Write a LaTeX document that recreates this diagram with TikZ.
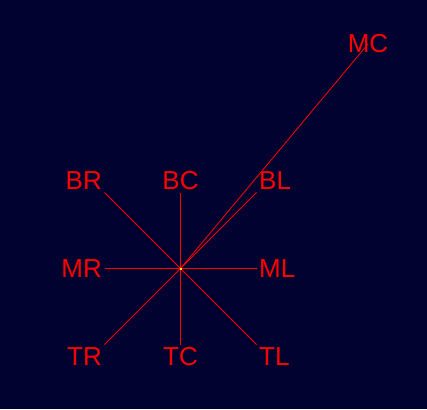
\documentclass[tikz,border=0pt]{standalone}
\usepackage{fontspec}
\setmainfont{Liberation Sans}
\definecolor{bgnavy}{RGB}{2,2,48}
\definecolor{lred}{RGB}{255,0,0}
\begin{document}
\begin{tikzpicture}[x=1pt,y=-1pt,
  lbl/.style={text=lred,font=\fontsize{26}{26}\selectfont,inner sep=2.5pt},
  ray/.style={draw=lred,line width=0.8pt}]
\fill[bgnavy] (0,0) rectangle (427,409);
\useasboundingbox (0,0) rectangle (427,409);
\coordinate (c) at (180.5,268.5);
\coordinate (pBR) at (104.5,192.5);
\coordinate (pBC) at (180.5,192.5);
\coordinate (pBL) at (256.5,192.5);
\coordinate (pMR) at (104.5,268.5);
\coordinate (pML) at (256.5,268.5);
\coordinate (pTR) at (104.5,344.5);
\coordinate (pTC) at (180.5,344.5);
\coordinate (pTL) at (256.5,344.5);
\coordinate (pMC) at (368,44);
\foreach \p in {BR,BC,BL,MR,ML,TR,TC,TL,MC} \draw[ray] (c) -- (p\p);
\node[lbl,anchor=south east] (BR) at (pBR) {BR};
\node[lbl,anchor=south] (BC) at (pBC) {BC};
\node[lbl,anchor=south west] (BL) at (pBL) {BL};
\node[lbl,anchor=east] (MR) at (pMR) {MR};
\node[lbl,anchor=west] (ML) at (pML) {ML};
\node[lbl,anchor=north east] (TR) at (pTR) {TR};
\node[lbl,anchor=north] (TC) at (pTC) {TC};
\node[lbl,anchor=north west] (TL) at (pTL) {TL};
\node[lbl,anchor=center] (MC) at (pMC) {MC};
\fill[yellow] (179.5,267.5) rectangle (181.5,269.5);
\end{tikzpicture}
\end{document}
